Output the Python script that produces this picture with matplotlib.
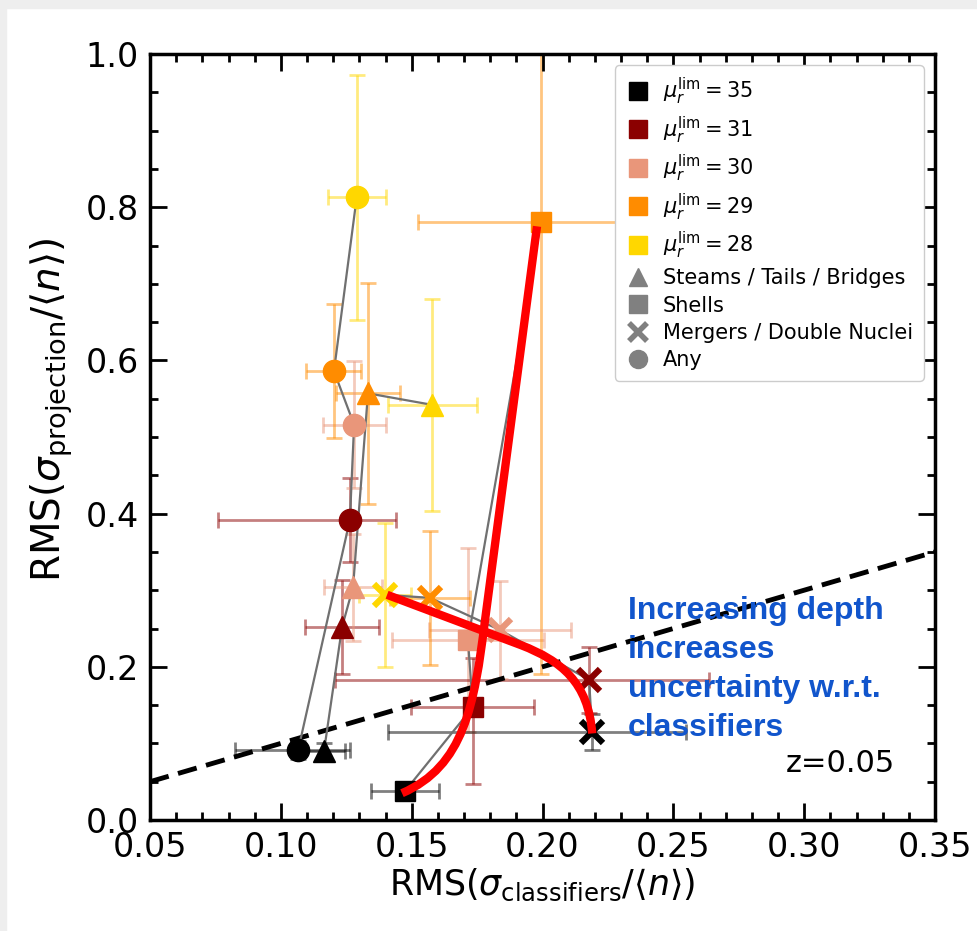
import numpy as np
import matplotlib.pyplot as plt
from matplotlib.path import Path
from matplotlib.patches import PathPatch, Rectangle
from matplotlib.lines import Line2D

depths = [35, 31, 30, 29, 28]
colors = ['#000000', '#8b0000', '#e9967a', '#ff8c00', '#ffd700']

# streams / tails / bridges
tri_x = [0.1165, 0.1234, 0.1276, 0.1333, 0.1578]
tri_y = [0.090, 0.252, 0.304, 0.557, 0.542]
tri_xerr = [(0.008, 0.008), (0.014, 0.014), (0.011, 0.011), (0.0123, 0.0123), (0.017, 0.017)]
tri_yerr = [(0.010, 0.010), (0.061, 0.061), (0.070, 0.070), (0.144, 0.144), (0.138, 0.138)]

# shells (no value at 28)
sq_x = [0.1475, 0.1734, 0.1715, 0.1994, np.nan]
sq_y = [0.038, 0.1475, 0.235, 0.781, np.nan]
sq_xerr = [(0.013, 0.013), (0.0235, 0.0235), (0.029, 0.029), (0.047, 0.047), (0, 0)]
sq_yerr = [(0.005, 0.005), (0.10, 0.064), (0.12, 0.12), (0.59, 0.59), (0, 0)]

# mergers / double nuclei
mrg_x = [0.219, 0.2178, 0.1838, 0.157, 0.1398]
mrg_y = [0.115, 0.183, 0.248, 0.290, 0.294]
mrg_xerr = [(0.078, 0.036), (0.097, 0.046), (0.027, 0.027), (0.0153, 0.0153), (0.010, 0.010)]
mrg_yerr = [(0.024, 0.024), (0.043, 0.043), (0.064, 0.064), (0.087, 0.087), (0.094, 0.094)]

# any
any_x = [0.1066, 0.1264, 0.128, 0.1203, 0.129]
any_y = [0.091, 0.392, 0.516, 0.586, 0.813]
any_xerr = [(0.024, 0.020), (0.0504, 0.0176), (0.012, 0.012), (0.0105, 0.0105), (0.011, 0.011)]
any_yerr = [(0.012, 0.012), (0.055, 0.055), (0.083, 0.083), (0.087, 0.087), (0.16, 0.16)]

# hand drawn red arrows (control points)
depth_curve = [(0.1463, 0.035), (0.170, 0.07), (0.174, 0.15), (0.178, 0.26), (0.1979, 0.775)]
merger_curve = [(0.1406, 0.294), (0.192, 0.228), (0.207, 0.208), (0.2175, 0.18), (0.219, 0.113)]

fig = plt.figure(figsize=(9.77, 9.31), dpi=100)
fig.patches.append(Rectangle((0, 0), 6 / 977, 1, transform=fig.transFigure, color='#eeeeee', zorder=-10))
fig.patches.append(Rectangle((0, 1 - 8 / 931), 1, 8 / 931, transform=fig.transFigure, color='#eeeeee', zorder=-10))
ax = fig.add_axes([150 / 977, 1 - 820 / 931, 785 / 977, 766 / 931])

groups = [('^', tri_x, tri_y, tri_xerr, tri_yerr),
          ('s', sq_x, sq_y, sq_xerr, sq_yerr),
          ('x', mrg_x, mrg_y, mrg_xerr, mrg_yerr),
          ('o', any_x, any_y, any_xerr, any_yerr)]
msize = {'^': 16, 's': 15, 'x': 16, 'o': 16}

for m, xs, ys, xe, ye in groups:
    ax.plot(xs, ys, '-', color='#707070', lw=1.6, zorder=3)
    for i in range(len(depths)):
        if np.isnan(xs[i]):
            continue
        ax.errorbar(xs[i], ys[i], xerr=[[xe[i][0]], [xe[i][1]]], yerr=[[ye[i][0]], [ye[i][1]]],
                    fmt='none', ecolor=colors[i], alpha=0.5, elinewidth=2, capsize=6, capthick=2, zorder=1)
        if m == 'x':
            ax.plot(xs[i], ys[i], marker='x', color=colors[i], ms=msize[m], mew=4.5, ls='none', zorder=4)
        else:
            ax.plot(xs[i], ys[i], marker=m, color=colors[i], ms=msize[m], ls='none', zorder=4)

line = np.array([0.05, 0.35])
ax.plot(line, line, '--', color='black', lw=3.5, dashes=(4, 2), zorder=2)

codes = [Path.MOVETO, Path.CURVE4, Path.CURVE4, Path.CURVE4, Path.LINETO]
ax.add_patch(PathPatch(Path(depth_curve, codes), fc='none', ec='red', lw=6, capstyle='butt', zorder=6))
codes = [Path.MOVETO, Path.LINETO, Path.CURVE4, Path.CURVE4, Path.CURVE4]
ax.add_patch(PathPatch(Path(merger_curve, codes), fc='none', ec='red', lw=6, capstyle='butt', zorder=6))

ax.text(0.2327, 0.292, 'Increasing depth\nincreases\nuncertainty w.r.t.\nclassifiers',
        color='#1155cc', fontsize=23, fontweight='bold', family='Liberation Sans',
        va='top', ha='left', linespacing=1.38, zorder=7)
ax.text(0.3347, 0.074, 'z=0.05', fontsize=22, ha='right', va='center')

handles = [Line2D([], [], marker='s', color=c, ls='none', ms=13,
                  label=r'$\mu_r^{\rm lim} = %d$' % d) for c, d in zip(colors, depths)]
handles += [Line2D([], [], marker='^', color='gray', ls='none', ms=13, label='Steams / Tails / Bridges'),
            Line2D([], [], marker='s', color='gray', ls='none', ms=13, label='Shells'),
            Line2D([], [], marker='x', color='gray', ls='none', ms=13, mew=4, label='Mergers / Double Nuclei'),
            Line2D([], [], marker='o', color='gray', ls='none', ms=13, label='Any')]
ax.legend(handles=handles, loc='upper right', fontsize=15, handletextpad=0.6, labelspacing=0.35,
          borderaxespad=0.55, handlelength=1.2, borderpad=0.5, framealpha=1, edgecolor='#cccccc')

ax.set_xlim(0.05, 0.35)
ax.set_ylim(0.0, 1.0)
ax.set_xticks(np.arange(0.05, 0.351, 0.05))
ax.set_xticks(np.arange(0.05, 0.351, 0.01), minor=True)
ax.set_yticks(np.arange(0, 1.01, 0.2))
ax.set_yticks(np.arange(0, 1.01, 0.05), minor=True)
ax.xaxis.set_major_formatter(plt.FormatStrFormatter('%.2f'))
ax.yaxis.set_major_formatter(plt.FormatStrFormatter('%.1f'))
ax.tick_params(which='both', direction='in', top=True, right=True, width=2)
ax.tick_params(which='major', length=12, labelsize=24, pad=8)
ax.tick_params(which='minor', length=6)
for s in ax.spines.values():
    s.set_linewidth(2.5)

ax.set_xlabel(r'RMS($\sigma_{\rm classifiers}/\langle n \rangle$)', fontsize=25, labelpad=2)
ax.set_ylabel(r'RMS($\sigma_{\rm projection}/\langle n \rangle$)', fontsize=28)
ax.yaxis.set_label_coords(-0.096, 0.535)

fig.savefig('out.png', dpi=100)
